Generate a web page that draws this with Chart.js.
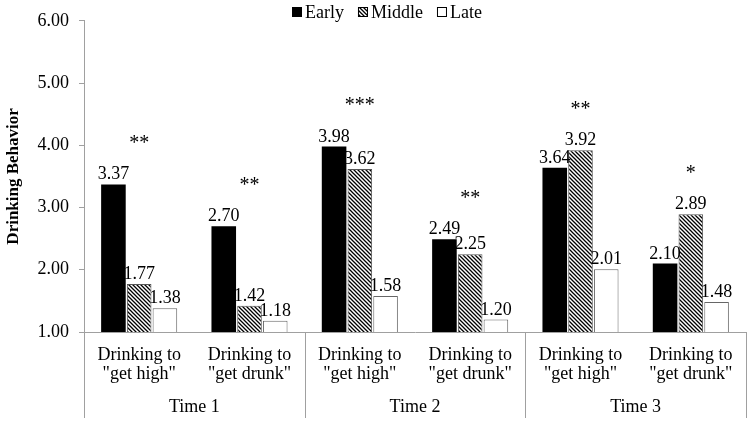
<!DOCTYPE html>
<html>
<head>
<meta charset="utf-8">
<script src="https://cdn.jsdelivr.net/npm/chart.js@4.4.0/dist/chart.umd.min.js"></script>
<style>
  html, body { margin: 0; padding: 0; background: #fff; }
  #wrap { width: 750px; height: 423px; }
</style>
</head>
<body>
<div id="wrap"><canvas id="grafico"></canvas></div>
<script>
const categorias = [
  ["Drinking to", "\"get high\""],
  ["Drinking to", "\"get drunk\""],
  ["Drinking to", "\"get high\""],
  ["Drinking to", "\"get drunk\""],
  ["Drinking to", "\"get high\""],
  ["Drinking to", "\"get drunk\""]
];
const tempos = ["Time 1", "Time 2", "Time 3"];
const early = [3.37, 2.70, 3.98, 2.49, 3.64, 2.10];
const middle = [1.77, 1.42, 3.62, 2.25, 3.92, 2.89];
const late = [1.38, 1.18, 1.58, 1.20, 2.01, 1.48];
const signif = ["**", "**", "***", "**", "**", "*"];

const FONTE = "'Liberation Serif', serif";
const CINZA = "#a0a0a0";

// padrao hachurado (\\\) da serie Middle
function hachura() {
  const s = 4;
  const c = document.createElement("canvas");
  c.width = s; c.height = s;
  const g = c.getContext("2d");
  g.fillStyle = "#fff";
  g.fillRect(0, 0, s, s);
  g.strokeStyle = "#000";
  g.lineWidth = 1.3;
  g.beginPath();
  g.moveTo(-1, -1); g.lineTo(s + 1, s + 1);
  g.moveTo(-1, s - 1); g.lineTo(1, s + 1);
  g.moveTo(s - 1, -1); g.lineTo(s + 1, 1);
  g.stroke();
  return g.createPattern(c, "repeat");
}
const padraoMiddle = hachura();

const extras = {
  id: "extras",
  afterDatasetsDraw(chart) {
    const ctx = chart.ctx;
    const x = chart.scales.x;
    const y = chart.scales.y;
    const area = chart.chartArea;
    ctx.save();

    // rotulos de valor
    ctx.fillStyle = "#000";
    ctx.font = "18px " + FONTE;
    ctx.textAlign = "center";
    ctx.textBaseline = "alphabetic";
    chart.data.datasets.forEach((ds, i) => {
      chart.getDatasetMeta(i).data.forEach((bar, j) => {
        ctx.fillText(ds.data[j].toFixed(2), bar.x, bar.y - 5);
      });
    });

    // asteriscos de significancia
    ctx.font = "20px " + FONTE;
    signif.forEach((s, j) => {
      const topo = Math.max(early[j], middle[j], late[j]) + 0.63;
      ctx.fillText(s, x.getPixelForValue(j), y.getPixelForValue(topo) + 4);
    });

    // separadores e rotulos de tempo
    const meio = (a, b) => (x.getPixelForValue(a) + x.getPixelForValue(b)) / 2;
    const cortes = [area.left, meio(1, 2), meio(3, 4), area.right];
    ctx.strokeStyle = CINZA;
    ctx.lineWidth = 1;
    cortes.forEach(cx => {
      const px = Math.round(cx) + 0.5;
      ctx.beginPath();
      ctx.moveTo(px, area.bottom);
      ctx.lineTo(px, 418);
      ctx.stroke();
    });
    ctx.font = "18px " + FONTE;
    ctx.textBaseline = "middle";
    tempos.forEach((t, k) => {
      ctx.fillText(t, (cortes[k] + cortes[k + 1]) / 2, 407);
    });

    // legenda
    let lx = 292;
    const ly = 7;
    ctx.textAlign = "left";
    chart.data.datasets.forEach(ds => {
      ctx.fillStyle = ds.backgroundColor;
      ctx.fillRect(lx, ly, 10, 10);
      if (ds.borderWidth) {
        ctx.strokeStyle = "#000";
        ctx.strokeRect(lx + 0.5, ly + 0.5, 9, 9);
      }
      ctx.fillStyle = "#000";
      ctx.fillText(ds.label, lx + 13, ly + 6);
      lx += 13 + ctx.measureText(ds.label).width + 14;
    });
    ctx.restore();
  }
};

new Chart(document.getElementById("grafico"), {
  type: "bar",
  data: {
    labels: categorias,
    datasets: [
      { label: "Early", data: early, backgroundColor: "#000", borderWidth: 0 },
      { label: "Middle", data: middle, backgroundColor: padraoMiddle, borderColor: "#555", borderWidth: 1 },
      { label: "Late", data: late, backgroundColor: "#fff", borderColor: "#666", borderWidth: 1 }
    ]
  },
  options: {
    responsive: true,
    maintainAspectRatio: false,
    animation: false,
    layout: { padding: { top: 12, right: 4, left: 0, bottom: 0 } },
    datasets: { bar: { categoryPercentage: 0.7, barPercentage: 0.955 } },
    plugins: { legend: { display: false }, tooltip: { enabled: false } },
    scales: {
      x: {
        grid: { display: false, drawTicks: false },
        border: { color: CINZA },
        ticks: { color: "#000", font: { family: FONTE, size: 18, lineHeight: 1.1 }, padding: 13, maxRotation: 0, autoSkip: false },
        afterFit: s => { s.height = 91; }
      },
      y: {
        min: 1, max: 6,
        grid: { drawOnChartArea: false, tickLength: 5, color: CINZA },
        border: { color: CINZA },
        ticks: { stepSize: 1, color: "#000", font: { family: FONTE, size: 18 }, padding: 10, callback: v => v.toFixed(2) },
        title: { display: true, text: "Drinking Behavior", color: "#000", font: { family: FONTE, size: 17, weight: "bold" }, padding: { top: 3, bottom: 0 } },
        afterFit: s => { s.width = 84; }
      }
    }
  },
  plugins: [extras]
});
</script>
</body>
</html>
